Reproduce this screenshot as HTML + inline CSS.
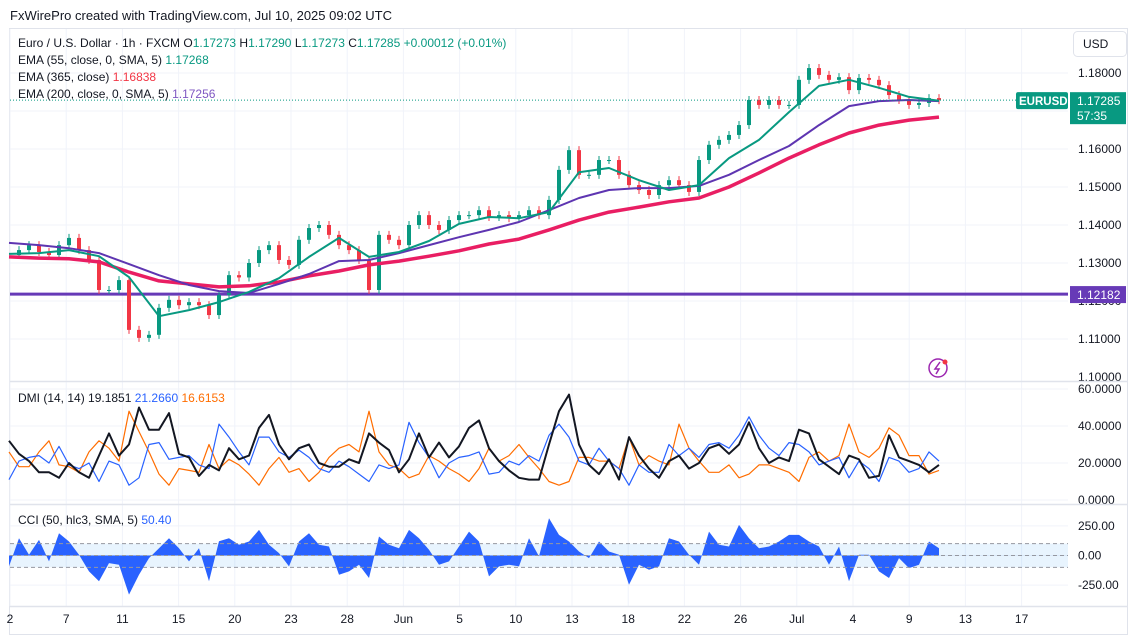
<!DOCTYPE html>
<html><head><meta charset="utf-8"><style>
html,body{margin:0;padding:0;background:#fff;}
svg{display:block;font-family:"Liberation Sans",sans-serif;}
</style></head><body>
<svg id="c" width="1129" height="640" viewBox="0 0 1129 640" xmlns="http://www.w3.org/2000/svg">
<rect x="0" y="0" width="1129" height="640" fill="#fff"/>
<text x="10" y="20" font-size="13" fill="#131722">FxWirePro created with TradingView.com, Jul 10, 2025 09:02 UTC</text>
<rect x="9.5" y="28.5" width="1118" height="606" fill="none" stroke="#e0e3eb"/>
<g id="grid"></g>
<g id="main"></g>
<g id="dmi"></g>
<g id="cci"></g>
<g id="axes"></g>
<g font-size="12" xml:space="preserve">
<text x="18" y="47" fill="#131722">Euro / U.S. Dollar · 1h · FXCM  O<tspan fill="#089981">1.17273</tspan>  H<tspan fill="#089981">1.17290</tspan>  L<tspan fill="#089981">1.17273</tspan>  C<tspan fill="#089981">1.17285</tspan>  <tspan fill="#089981">+0.00012 (+0.01%)</tspan></text>
<text x="18" y="64" fill="#131722">EMA (55, close, 0, SMA, 5)  <tspan fill="#089981">1.17268</tspan></text>
<text x="18" y="81" fill="#131722">EMA (365, close)  <tspan fill="#f23645">1.16838</tspan></text>
<text x="18" y="98" fill="#131722">EMA (200, close, 0, SMA, 5)  <tspan fill="#7e57c2">1.17256</tspan></text>
<text x="18" y="402" fill="#131722">DMI (14, 14)  19.1851  <tspan fill="#2962ff">21.2660</tspan>  <tspan fill="#ff6d00">16.6153</tspan></text>
<text x="18" y="524" fill="#131722">CCI (50, hlc3, SMA, 5)  <tspan fill="#2962ff">50.40</tspan></text>
</g>
<g>
<rect x="1073.5" y="31.5" width="53" height="25" rx="4" fill="#fff" stroke="#e0e3eb"/>
<text x="1083" y="48" font-size="12" fill="#131722">USD</text>
</g>
<g>
<circle cx="938" cy="368" r="9" fill="#fff" stroke="#9c27b0" stroke-width="1.5"/>
<path d="M940 362 L935 369 L939 369 L936 374" fill="none" stroke="#9c27b0" stroke-width="1.5"/>
<circle cx="945" cy="362" r="2.5" fill="#f23645"/>
</g>
</svg>
<script>
const closes=[1.1321,1.1334,1.1347,1.1329,1.1321,1.1347,1.1366,1.1334,1.1308,1.1229,1.1229,1.1255,1.1124,1.1103,1.1111,1.1182,1.1203,1.1189,1.1197,1.1189,1.1163,1.1216,1.1268,1.1262,1.1300,1.1334,1.1347,1.1308,1.1295,1.1361,1.1392,1.1400,1.1374,1.1347,1.1334,1.1308,1.1229,1.1374,1.1361,1.1347,1.1400,1.1426,1.1400,1.1387,1.1413,1.1426,1.1426,1.1439,1.1421,1.1426,1.1418,1.1426,1.1439,1.1426,1.1466,1.1545,1.1597,1.1532,1.1532,1.1571,1.1571,1.1532,1.1505,1.1492,1.1479,1.1505,1.1518,1.1505,1.1487,1.1571,1.1611,1.1624,1.1637,1.1663,1.1729,1.1716,1.1729,1.1716,1.1716,1.1782,1.1813,1.1795,1.1782,1.1789,1.1755,1.1787,1.1782,1.1768,1.1742,1.1729,1.1716,1.1721,1.1734,1.17285];
const ema55=[1.1324,1.1326,1.1334,1.1318,1.1263,1.1160,1.1176,1.1197,1.1224,1.1260,1.1316,1.1366,1.1316,1.1329,1.1358,1.1403,1.1421,1.1418,1.1434,1.1539,1.1550,1.1518,1.1492,1.1505,1.1576,1.1624,1.1697,1.1766,1.1782,1.1761,1.1737,1.1727];
const ema200=[1.1353,1.1347,1.1339,1.1326,1.1297,1.1268,1.1242,1.1226,1.1221,1.1245,1.1271,1.1305,1.1308,1.1326,1.1347,1.1368,1.1387,1.1408,1.1439,1.1471,1.1492,1.1497,1.1497,1.1503,1.1532,1.1571,1.1608,1.1663,1.1713,1.1726,1.1729,1.1726];
const ema365=[1.1316,1.1313,1.1311,1.1303,1.1276,1.1253,1.1245,1.1237,1.1240,1.1250,1.1266,1.1279,1.1295,1.1305,1.1318,1.1332,1.1350,1.1363,1.1387,1.1413,1.1434,1.1447,1.1461,1.1471,1.1500,1.1537,1.1576,1.1611,1.1642,1.1663,1.1676,1.1684];
const adx=[32,25,21,15,15,12,20,15,12,24,36,24,30,50,38,38,47,25,23,13,19,16,28,22,24,39,46,30,22,28,30,20,18,18,22,20,36,31,27,15,22,36,23,31,23,29,39,43,28,21,16,12,11,11,30,48,57,30,19,14,22,11,34,24,17,12,21,24,17,20,28,30,25,30,42,28,20,23,21,38,36,22,18,14,24,22,12,13,35,23,21,19,15,19];
const plusDI=[11,21,23,24,20,29,19,17,20,10,21,19,8,12,30,31,22,23,24,19,17,41,34,26,19,34,34,26,23,27,23,17,15,21,18,14,10,19,17,19,42,31,23,12,20,23,24,26,14,15,21,19,24,21,35,41,34,21,19,28,21,17,8,19,15,15,30,24,28,23,30,31,28,35,45,35,28,24,31,30,26,19,21,23,12,21,17,10,23,21,15,17,26,21];
const minusDI=[26,18,18,26,32,19,18,15,26,32,28,21,48,37,26,14,8,17,16,15,30,17,22,19,14,8,17,23,15,17,10,15,23,28,30,26,48,26,19,17,12,14,24,21,17,14,10,17,28,21,24,30,23,17,10,8,10,23,23,21,21,17,34,19,24,21,19,41,28,21,15,15,19,12,14,19,19,17,15,10,23,26,21,24,41,26,23,28,39,35,24,24,14,16];
const cciValues=[-92,146,6,132,-50,188,118,6,-134,-218,-64,-78,-330,-162,-22,62,146,62,-50,62,-218,120,146,90,118,216,90,20,-92,118,188,90,76,-162,-134,-78,-190,160,90,62,216,146,48,-78,-50,76,202,118,-176,-92,-78,-92,146,-8,314,174,118,34,-22,118,34,6,-246,-78,-120,-92,146,118,6,-78,202,90,76,258,146,62,76,118,174,174,118,76,-78,76,-218,6,6,-134,-190,-22,-106,-78,118,62];
const priceTicks=[1.18,1.17,1.16,1.15,1.14,1.13,1.12,1.11,1.10];
const dmiTicks=[60,40,20,0];
const cciTicks=[250,0,-250];
const timeLabels=["2","7","11","15","20","23","28","Jun","5","10","13","18","22","26","Jul","4","9","13","17"];
const supportLevel=1.12182;
const lastPrice=1.17285;

const NS="http://www.w3.org/2000/svg";
function el(tag,attrs,parent,txt){const e=document.createElementNS(NS,tag);for(const k in attrs)e.setAttribute(k,attrs[k]);if(txt!==undefined)e.textContent=txt;parent.appendChild(e);return e;}
const HOURS_PER_SAMPLE=13, PX_PER_HOUR=10/13, X0=9;
const xT=h=>X0+h*PX_PER_HOUR;
const yP=p=>377-(p-1.10)*3800;
const yD=v=>500-v*1.85;
const yC=v=>555.5-v*0.1185;
const PLOT_R=1068;
const gGrid=document.getElementById('grid'),gMain=document.getElementById('main'),gDmi=document.getElementById('dmi'),gCci=document.getElementById('cci'),gAxes=document.getElementById('axes');

timeLabels.forEach((t,i)=>{const x=10+i*56.2;
 const g=el('line',{x1:x,x2:x,y1:29,y2:606,stroke:'#f0f3fa'},gGrid);
 
 
 const tx=el('text',{x:x,y:623,'font-size':12,fill:'#131722','text-anchor':'middle'},gAxes,t);
 
 
});
priceTicks.forEach(p=>{const y=yP(p);
 if(p>1.1){const g=el('line',{x1:10,x2:PLOT_R,y1:y,y2:y,stroke:'#f0f3fa'},gGrid);
 
 }
 const t=el('text',{x:1078,y:y+4,'font-size':12,fill:'#131722'},gAxes,p.toFixed(5));
 
 
});
dmiTicks.forEach(v=>{const y=yD(v);
 const g=el('line',{x1:10,x2:PLOT_R,y1:y,y2:y,stroke:'#f0f3fa'},gGrid);
 
 
 const t=el('text',{x:1078,y:y+4,'font-size':12,fill:'#131722'},gAxes,v.toFixed(4));
 
 
});
cciTicks.forEach(v=>{const y=yC(v);
 const g=el('line',{x1:10,x2:PLOT_R,y1:y,y2:y,stroke:'#f0f3fa'},gGrid);
 
 
 const t=el('text',{x:1078,y:y+4,'font-size':12,fill:'#131722'},gAxes,v.toFixed(2));
 
 
});
[381,504,606].forEach(y=>{const s=el('line',{x1:10,x2:1128,y1:y+0.5,y2:y+0.5,stroke:'#e0e3eb','stroke-width':1.5},gAxes);
 
 });

const sy=yP(supportLevel);
const sl=el('line',{x1:10,x2:PLOT_R,y1:sy,y2:sy,stroke:'#673ab7','stroke-width':3},gMain);


const sb=el('rect',{x:1070,y:sy-8,width:56,height:17,fill:'#673ab7'},gAxes);


el('text',{x:1077,y:sy+5,'font-size':12,fill:'#fff'},gAxes,supportLevel.toFixed(5));

closes.forEach((c,i)=>{if(i===0)return;const o=closes[i-1];const x=xT(i*HOURS_PER_SAMPLE);
 const up=c>=o,col=up?'#089981':'#f23645';const yt=yP(Math.max(o,c)),yb=yP(Math.min(o,c));
 const w=el('line',{x1:x,x2:x,y1:yt-4,y2:yb+4,stroke:col,'stroke-width':1},gMain);
 
 
 const b=el('rect',{x:x-2,y:yt,width:4,height:Math.max(1,yb-yt),fill:col},gMain);
 
 
});
function line(arr,step,ys,parent,attrs,name){const d=arr.map((v,i)=>(i?'L':'M')+xT(i*step).toFixed(1)+' '+ys(v).toFixed(1)).join(' ');
 const p=el('path',Object.assign({d:d,fill:'none','stroke-linejoin':'round'},attrs),parent);
 
 return p;}
const EMA_STEP=39;
line(ema365,EMA_STEP,yP,gMain,{stroke:'#e91e63','stroke-width':3.5},'ema365-line');
line(ema200,EMA_STEP,yP,gMain,{stroke:'#5e35b1','stroke-width':2},'ema200-line');
line(ema55,EMA_STEP,yP,gMain,{stroke:'#089981','stroke-width':2},'ema55-line');

const ly=yP(lastPrice);
const lpl=el('line',{x1:10,x2:1016,y1:ly,y2:ly,stroke:'#089981','stroke-dasharray':'1 2'},gMain);


const sym=el('rect',{x:1016,y:ly-8,width:52,height:17,rx:2,fill:'#089981'},gAxes);


el('text',{x:1019,y:ly+5,'font-size':11.5,'font-weight':'bold',fill:'#fff'},gAxes,'EURUSD');
const pb=el('rect',{x:1070,y:ly-8,width:56,height:32,fill:'#089981'},gAxes);


el('text',{x:1077,y:ly+5,'font-size':12,fill:'#fff'},gAxes,lastPrice.toFixed(5));
el('text',{x:1077,y:ly+20,'font-size':12,fill:'#fff'},gAxes,'57:35');

line(minusDI,HOURS_PER_SAMPLE,yD,gDmi,{stroke:'#ff6d00','stroke-width':1.2},'minus-di-line');
line(plusDI,HOURS_PER_SAMPLE,yD,gDmi,{stroke:'#2962ff','stroke-width':1.2},'plus-di-line');
line(adx,HOURS_PER_SAMPLE,yD,gDmi,{stroke:'#131722','stroke-width':2},'adx-line');

const bt=yC(100),bb=yC(-100);
const band=el('rect',{x:10,y:bt,width:PLOT_R-10,height:bb-bt,fill:'rgba(33,150,243,0.1)'},gCci);


let d='M'+xT(0)+' '+yC(0);
cciValues.forEach((v,i)=>{d+=' L'+xT(i*HOURS_PER_SAMPLE).toFixed(1)+' '+yC(v).toFixed(1);});
d+=' L'+xT((cciValues.length-1)*HOURS_PER_SAMPLE).toFixed(1)+' '+yC(0)+' Z';
const area=el('path',{d:d,fill:'#2962ff'},gCci);


[100,0,-100].forEach(v=>{const l=el('line',{x1:10,x2:PLOT_R,y1:yC(v),y2:yC(v),stroke:'#9598a1','stroke-dasharray':'4 3'},gCci);
 
 });
</script>
</body></html>
